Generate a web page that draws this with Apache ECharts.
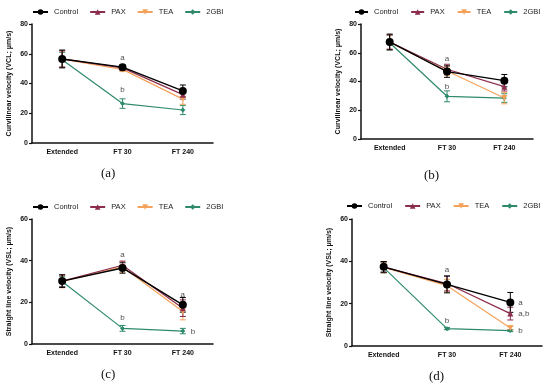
<!DOCTYPE html>
<html><head><meta charset="utf-8">
<script src="https://cdn.jsdelivr.net/npm/echarts@6/dist/echarts.min.js"></script>
<style>html,body{margin:0;padding:0;background:#fff}#c{width:550px;height:390px}</style>
</head><body><div id="c"></div>
<script>
const categories = ['Extended', 'FT 30', 'FT 240'];
const groupNames = ['Control', 'PAX', 'TEA', '2GBI'];
const panelLabels = ['(a)', '(b)', '(c)', '(d)'];
const yAxisNames = ['Curvilinear velocity (VCL; μm/s)', 'Curvilinear velocity (VCL; μm/s)',
  'Straight line velocity (VSL; μm/s)', 'Straight line velocity (VSL; μm/s)'];
const yMax = [80, 80, 60, 60];
const yTicks = [20, 20, 20, 20];

// Panel (a) VCL
const aControl = [56.5, 51.0, 35.0];   const aControlErr = [6.0, 1.5, 4.0];
const aPAX     = [56.5, 50.5, 32.5];   const aPAXErr     = [5.5, 1.5, 3.0];
const aTEA     = [56.3, 49.5, 29.5];   const aTEAErr     = [5.5, 1.5, 3.5];
const a2GBI    = [56.0, 26.5, 22.2];   const a2GBIErr    = [5.0, 3.2, 3.1];
// Panel (b) VCL
const bControl = [67.5, 46.9, 40.6];   const bControlErr = [5.5, 4.0, 4.3];
const bPAX     = [67.5, 48.5, 36.4];   const bPAXErr     = [5.0, 3.5, 3.0];
const bTEA     = [67.3, 47.3, 28.5];   const bTEAErr     = [5.0, 3.0, 4.0];
const b2GBI    = [67.0, 29.7, 28.5];   const b2GBIErr    = [5.0, 3.8, 3.0];
// Panel (c) VSL
const cControl = [30.2, 36.5, 18.8];   const cControlErr = [3.0, 2.5, 3.5];
const cPAX     = [30.2, 37.8, 17.2];   const cPAXErr     = [3.0, 2.0, 4.0];
const cTEA     = [30.0, 37.0, 15.6];   const cTEAErr     = [3.0, 2.5, 4.0];
const c2GBI    = [30.0, 7.5, 6.2];     const c2GBIErr    = [2.5, 1.4, 1.3];
// Panel (d) VSL
const dControl = [37.4, 29.1, 20.6];   const dControlErr = [2.5, 4.0, 4.7];
const dPAX     = [37.3, 29.5, 15.3];   const dPAXErr     = [2.5, 3.5, 3.0];
const dTEA     = [37.1, 28.5, 8.5];    const dTEAErr     = [2.5, 3.0, 0.8];
const d2GBI    = [37.0, 8.2, 7.3];     const d2GBIErr    = [2.5, 0.5, 0.5];

// significance letters: [category, y, text]
const aLettersTop = [['FT 30', 57, 'a'], ['FT 30', 35.5, 'b']];
const aLettersRight = [];
const bLettersTop = [['FT 30', 55.5, 'a'], ['FT 30', 36, 'b']];
const bLettersRight = [];
const cLettersTop = [['FT 30', 43, 'a'], ['FT 30', 12.7, 'b'], ['FT 240', 23.6, 'a']];
const cLettersRight = [['FT 240', 6.0, 'b']];
const dLettersTop = [['FT 30', 36, 'a'], ['FT 30', 12, 'b']];
const dLettersRight = [['FT 240', 20.6, 'a'], ['FT 240', 15.2, 'a,b'], ['FT 240', 7.2, 'b']];

const panelValues = [
  [aControl, aPAX, aTEA, a2GBI], [bControl, bPAX, bTEA, b2GBI],
  [cControl, cPAX, cTEA, c2GBI], [dControl, dPAX, dTEA, d2GBI]];
const panelErrors = [
  [aControlErr, aPAXErr, aTEAErr, a2GBIErr], [bControlErr, bPAXErr, bTEAErr, b2GBIErr],
  [cControlErr, cPAXErr, cTEAErr, c2GBIErr], [dControlErr, dPAXErr, dTEAErr, d2GBIErr]];
const panelLettersTop = [aLettersTop, bLettersTop, cLettersTop, dLettersTop];
const panelLettersRight = [aLettersRight, bLettersRight, cLettersRight, dLettersRight];

// styles / layout
const colors = ['#000000', '#8c2d4c', '#f4a25a', '#2f8a6c'];
const symbols = ['circle', 'triangle', 'path://M0,0 L10,0 L5,9 Z', 'diamond'];
const symbolSizes = [8, 6, 6, 5];
const lineWidths = [1.4, 1.2, 1.2, 1.2];
const grids = [
  {left: 32, top: 24, width: 181, height: 119},
  {left: 361, top: 24, width: 172, height: 115},
  {left: 32, top: 219, width: 181, height: 125},
  {left: 352, top: 219, width: 190, height: 127}];
const legendPos = [{left: 27, top: 3}, {left: 349, top: 3}, {left: 27, top: 198}, {left: 341, top: 197}];
const legendIconW = [15, 13, 15, 15];
const legendGaps = [11, 12, 11, 12];
const labelPos = [[110, 175], [433, 177], [110, 376], [438, 378]];
const FONT = 'Liberation Sans';

const option = {
  animation: false,
  backgroundColor: '#fff',
  textStyle: {fontFamily: FONT},
  grid: [], xAxis: [], yAxis: [], legend: [], series: [], graphic: []
};

const drawOrder = [3, 2, 1, 0];
for (let p = 0; p < 4; p++) {
  option.grid.push(Object.assign({containLabel: false}, grids[p]));
  option.xAxis.push({
    type: 'category', gridIndex: p, data: categories, boundaryGap: true,
    axisLine: {lineStyle: {color: '#111', width: 1.5}},
    axisTick: {alignWithLabel: true, length: 4, lineStyle: {color: '#111', width: 1.2}},
    axisLabel: {color: '#111', fontWeight: 'bold', fontSize: 7, margin: 6, fontFamily: FONT},
    splitLine: {show: false}
  });
  option.yAxis.push({
    type: 'value', gridIndex: p, min: 0, max: yMax[p], interval: yTicks[p],
    name: yAxisNames[p], nameLocation: 'middle', nameGap: 19,
    nameTextStyle: {color: '#111', fontWeight: 'bold', fontSize: 7, fontFamily: FONT},
    axisLine: {show: true, lineStyle: {color: '#111', width: 1.5}},
    axisTick: {show: true, length: 3, lineStyle: {color: '#111', width: 1.2}},
    axisLabel: {color: '#111', fontWeight: 'bold', fontSize: 7, margin: 4, fontFamily: FONT},
    splitLine: {show: false}
  });
  option.legend.push(Object.assign({
    data: groupNames.map(n => ({name: n + '_' + p})),
    formatter: n => n.split('_')[0],
    orient: 'horizontal', width: 300,
    itemWidth: legendIconW[p], itemHeight: 7, itemGap: legendGaps[p],
    textStyle: {fontSize: 7.5, color: '#222', fontFamily: FONT, padding: [0, 0, 0, 1]},
    selectedMode: false
  }, legendPos[p]));

  for (const g of drawOrder) {
    const vals = panelValues[p][g];
    const errs = panelErrors[p][g];
    option.series.push({
      type: 'custom', name: 'err_' + g + '_' + p, xAxisIndex: p, yAxisIndex: p,
      data: vals.map((v, i) => [i, v, errs[i]]),
      renderItem: (params, api) => {
        const x = api.value(0), y = api.value(1), e = api.value(2);
        const hi = api.coord([x, y + e]);
        const lo = api.coord([x, y - e]);
        const hw = 3;
        const st = {stroke: colors[g], lineWidth: 1};
        return {type: 'group', children: [
          {type: 'line', shape: {x1: hi[0], y1: hi[1], x2: lo[0], y2: lo[1]}, style: st},
          {type: 'line', shape: {x1: hi[0] - hw, y1: hi[1], x2: hi[0] + hw, y2: hi[1]}, style: st},
          {type: 'line', shape: {x1: lo[0] - hw, y1: lo[1], x2: lo[0] + hw, y2: lo[1]}, style: st}
        ]};
      },
      z: 2, silent: true
    });
    option.series.push({
      type: 'line', name: groupNames[g] + '_' + p, xAxisIndex: p, yAxisIndex: p,
      data: vals, symbol: symbols[g], symbolSize: symbolSizes[g],
      itemStyle: {color: colors[g]},
      lineStyle: {color: colors[g], width: lineWidths[g]},
      z: 3, silent: true
    });
  }
  option.series.push({
    type: 'scatter', name: 'lettersTop_' + p, xAxisIndex: p, yAxisIndex: p,
    data: panelLettersTop[p].map(d => [d[0], d[1], d[2]]),
    symbolSize: 0,
    label: {show: true, position: 'inside', formatter: pr => pr.value[2],
      fontSize: 8, color: '#222', fontFamily: FONT},
    z: 5, silent: true
  });
  option.series.push({
    type: 'scatter', name: 'lettersRight_' + p, xAxisIndex: p, yAxisIndex: p,
    data: panelLettersRight[p].map(d => [d[0], d[1], d[2]]),
    symbolSize: 0,
    label: {show: true, position: 'right', distance: 8, formatter: pr => pr.value[2],
      fontSize: 8, color: '#222', fontFamily: FONT},
    z: 5, silent: true
  });
  option.graphic.push({
    type: 'text', left: labelPos[p][0] - 9, top: labelPos[p][1] - 8,
    style: {text: panelLabels[p], font: '13px "Liberation Serif"', fill: '#111'}
  });
}

const chart = echarts.init(document.getElementById('c'), null, {renderer: 'canvas'});
chart.setOption(option);
</script>
</body></html>
